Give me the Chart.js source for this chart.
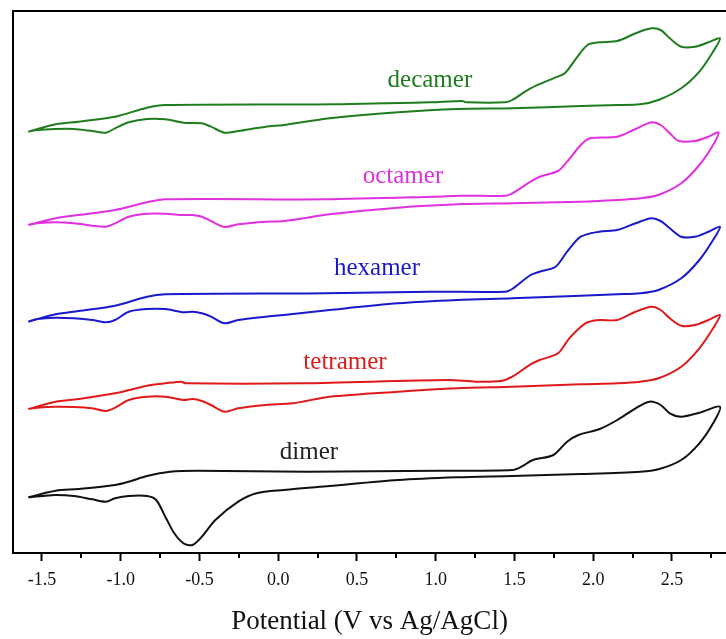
<!DOCTYPE html>
<html>
<head>
<meta charset="utf-8">
<script src="https://cdn.jsdelivr.net/npm/chart.js@4"></script>
<style>
html,body{margin:0;padding:0;background:#fff;overflow:hidden;}
#wrap{width:726px;height:639px;}
</style>
</head>
<body>
<div id="wrap"><canvas id="c" width="726" height="639"></canvas></div>
<script>
// ---- Data (potential in V vs Ag/AgCl, current offset in arbitrary units) ----
const decamerV = [-1.587,-1.413,-1.268,-1.036,-0.833,-0.717,0.355,0.964,1.167,1.196,1.442,1.486,1.602,1.747,1.819,1.892,1.964,2.037,2.153,2.269,2.370,2.428,2.486,2.559,2.646,2.732,2.805,2.761,2.674,2.559,2.414,2.298,2.153,1.921,1.486,1.138,0.761,0.326,0.036,-0.080,-0.254,-0.340,-0.427,-0.485,-0.601,-0.717,-0.833,-0.949,-1.036,-1.094,-1.181,-1.297,-1.413,-1.529,-1.587];
const decamerI = [421.3,428.7,431.3,436.3,445.3,448.0,448.7,450.7,452.0,450.7,450.7,453.0,464.7,474.7,479.7,494.7,508.0,510.7,512.0,519.7,524.7,523.0,514.7,506.3,506.3,510.7,514.7,501.3,481.3,464.7,453.0,448.7,448.0,447.0,444.7,444.0,440.7,434.7,428.0,426.3,422.0,420.3,426.3,429.7,430.3,433.7,434.0,430.7,424.7,420.3,422.0,424.0,424.0,423.0,421.3];

const octamerV = [-1.587,-1.413,-1.268,-1.036,-0.833,-0.717,0.297,0.993,1.153,1.442,1.486,1.602,1.660,1.776,1.834,1.921,1.979,2.153,2.269,2.370,2.428,2.486,2.544,2.646,2.732,2.796,2.761,2.674,2.559,2.414,2.298,2.153,1.921,1.486,1.138,0.761,0.326,0.036,-0.080,-0.254,-0.340,-0.427,-0.485,-0.544,-0.601,-0.717,-0.833,-0.949,-1.036,-1.094,-1.181,-1.297,-1.413,-1.529,-1.587];
const octamerI = [328.0,334.7,338.0,343.0,350.7,353.7,353.7,356.3,357.3,357.3,359.7,371.3,376.3,382.0,391.3,408.0,414.7,416.3,424.0,430.7,428.0,419.7,412.0,412.0,416.3,420.7,408.0,388.0,369.7,358.0,354.7,353.0,351.3,349.7,348.7,345.3,338.7,332.0,331.3,328.7,326.0,332.0,336.3,338.0,338.0,339.3,339.3,336.3,329.7,326.3,327.3,329.7,330.7,329.7,328.0];

const hexamerV = [-1.587,-1.413,-1.268,-1.036,-0.833,-0.717,0.297,0.964,1.442,1.486,1.602,1.660,1.761,1.834,1.921,2.037,2.153,2.269,2.370,2.428,2.486,2.559,2.646,2.732,2.805,2.761,2.674,2.559,2.414,2.298,2.153,1.921,1.486,1.138,0.761,0.326,0.036,-0.080,-0.254,-0.340,-0.427,-0.485,-0.544,-0.601,-0.717,-0.833,-0.949,-1.036,-1.094,-1.181,-1.297,-1.413,-1.529,-1.587];
const hexamerI = [231.3,238.7,242.0,247.3,256.3,258.7,259.7,261.3,261.3,264.0,278.0,281.3,286.3,301.3,316.3,321.3,323.0,329.7,334.7,332.0,324.7,316.3,316.3,321.3,326.3,313.0,293.0,274.7,263.0,259.7,258.7,257.3,254.7,253.0,249.7,243.0,238.0,236.3,233.0,229.7,236.3,239.7,241.3,240.7,244.0,244.0,241.3,233.0,230.7,233.0,234.7,235.3,234.0,231.3];

const tetramerV = [-1.587,-1.413,-1.268,-1.036,-0.833,-0.717,-0.616,-0.587,0.152,1.080,1.254,1.414,1.486,1.602,1.660,1.776,1.848,1.950,2.037,2.153,2.269,2.370,2.428,2.486,2.559,2.646,2.732,2.805,2.761,2.674,2.559,2.414,2.298,2.153,1.921,1.486,1.138,0.761,0.326,0.094,-0.080,-0.254,-0.340,-0.427,-0.485,-0.544,-0.601,-0.717,-0.833,-0.949,-1.036,-1.094,-1.181,-1.297,-1.413,-1.529,-1.587];
const tetramerI = [144.0,151.3,154.0,159.7,167.3,169.7,171.3,169.7,169.7,173.0,171.3,172.0,176.3,188.7,193.0,199.7,214.7,229.7,233.0,233.0,241.3,246.3,243.0,234.7,227.3,228.0,233.0,238.0,224.7,204.7,186.3,174.7,171.3,169.7,168.7,166.3,164.7,161.3,156.3,149.7,148.0,144.7,141.3,148.0,152.0,154.0,153.0,156.3,156.3,153.0,145.3,142.0,144.7,146.0,146.3,145.3,144.0];

const dimerV = [-1.587,-1.413,-1.268,-1.036,-0.949,-0.833,-0.688,-0.515,0.181,1.022,1.486,1.544,1.617,1.747,1.834,1.906,2.037,2.153,2.269,2.356,2.428,2.486,2.559,2.674,2.805,2.761,2.674,2.559,2.414,2.298,1.921,1.486,1.138,0.761,0.326,0.036,-0.138,-0.254,-0.399,-0.485,-0.544,-0.601,-0.660,-0.717,-0.775,-0.833,-0.949,-1.036,-1.094,-1.181,-1.297,-1.413,-1.500,-1.587];
const dimerI = [55.7,62.3,64.0,68.0,71.3,77.0,81.3,82.3,81.3,82.3,83.0,86.3,93.0,98.0,111.3,118.0,123.7,133.0,144.7,151.3,148.0,139.7,136.3,140.3,146.3,129.7,109.7,93.0,83.7,81.3,79.0,77.0,75.7,73.0,67.0,63.0,59.7,51.3,33.0,16.3,8.0,9.7,19.7,36.3,53.0,57.0,57.0,54.7,51.3,53.7,57.0,58.0,57.0,55.7];

const seriesNames = ['dimer','tetramer','hexamer','octamer','decamer'];
const labelV = [0.195, 0.424, 0.627, 0.792, 0.963];
const labelI = [101, 191, 285, 377, 473];
const majorTicks = [-1.5,-1.0,-0.5,0.0,0.5,1.0,1.5,2.0,2.5];
const minorTicks = [-1.25,-0.75,-0.25,0.25,0.75,1.25,1.75,2.25,2.75];
const xTitle = 'Potential (V vs Ag/AgCl)';

// ---- Styling ----
const colors = ['#111111','#e01a1a','#1a1acc','#e030e0','#1f7d1f'];
const labelColors = ['#222222','#e01a1a','#1a1acc','#e030e0','#1f7d1f'];
const serif = "'Liberation Serif','Times New Roman',serif";

const allV = [dimerV, tetramerV, hexamerV, octamerV, decamerV];
const allI = [dimerI, tetramerI, hexamerI, octamerI, decamerI];

const datasets = allV.map((vs, k) => ({
  label: seriesNames[k],
  data: vs.map((v, i) => ({x: v, y: allI[k][i]})),
  showLine: true,
  borderColor: colors[k],
  backgroundColor: colors[k],
  borderWidth: 2,
  pointRadius: 0,
  tension: 0.3,
  fill: false
}));

const framePlugin = {
  id: 'frame',
  afterDatasetsDraw(chart) {
    const {ctx, chartArea: a, scales} = chart;
    const xs = scales.x, ys = scales.y;
    ctx.save();
    // labels
    ctx.font = '25px ' + serif;
    ctx.textAlign = 'center';
    ctx.textBaseline = 'middle';
    seriesNames.forEach((n, k) => {
      ctx.fillStyle = labelColors[k];
      ctx.fillText(n, xs.getPixelForValue(labelV[k]), ys.getPixelForValue(labelI[k]));
    });
    // frame (left + top)
    ctx.strokeStyle = '#000';
    ctx.lineWidth = 2;
    ctx.beginPath();
    ctx.moveTo(a.left, a.bottom);
    ctx.lineTo(a.left, a.top);
    ctx.lineTo(a.right + 2, a.top);
    ctx.stroke();
    // minor ticks
    ctx.lineWidth = 2;
    ctx.beginPath();
    minorTicks.forEach(v => {
      const px = Math.round(xs.getPixelForValue(v));
      ctx.moveTo(px, a.bottom);
      ctx.lineTo(px, a.bottom + 5);
    });
    ctx.stroke();
    ctx.restore();
  }
};

new Chart(document.getElementById('c'), {
  type: 'scatter',
  data: {datasets},
  options: {
    responsive: false,
    animation: false,
    events: [],
    layout: {padding: {left: 13, top: 11, right: 0, bottom: 0}},
    plugins: {legend: {display: false}, tooltip: {enabled: false}},
    scales: {
      x: {
        type: 'linear',
        min: -1.684,
        max: 2.843,
        afterBuildTicks: s => { s.ticks = majorTicks.map(v => ({value: v})); },
        ticks: {
          color: '#111',
          font: {family: serif, size: 18},
          padding: 8,
          maxRotation: 0,
          autoSkip: false,
          callback: v => Number(v).toFixed(1)
        },
        grid: {
          display: true,
          drawOnChartArea: false,
          drawTicks: true,
          tickLength: 8,
          tickWidth: 2,
          tickColor: '#000'
        },
        border: {display: true, color: '#000', width: 2},
        title: {
          display: true,
          text: xTitle,
          color: '#111',
          font: {family: serif, size: 27},
          padding: {top: 7, bottom: 1}
        }
      },
      y: {
        type: 'linear',
        display: false,
        min: 0,
        max: 542
      }
    }
  },
  plugins: [framePlugin]
});
</script>
</body>
</html>
